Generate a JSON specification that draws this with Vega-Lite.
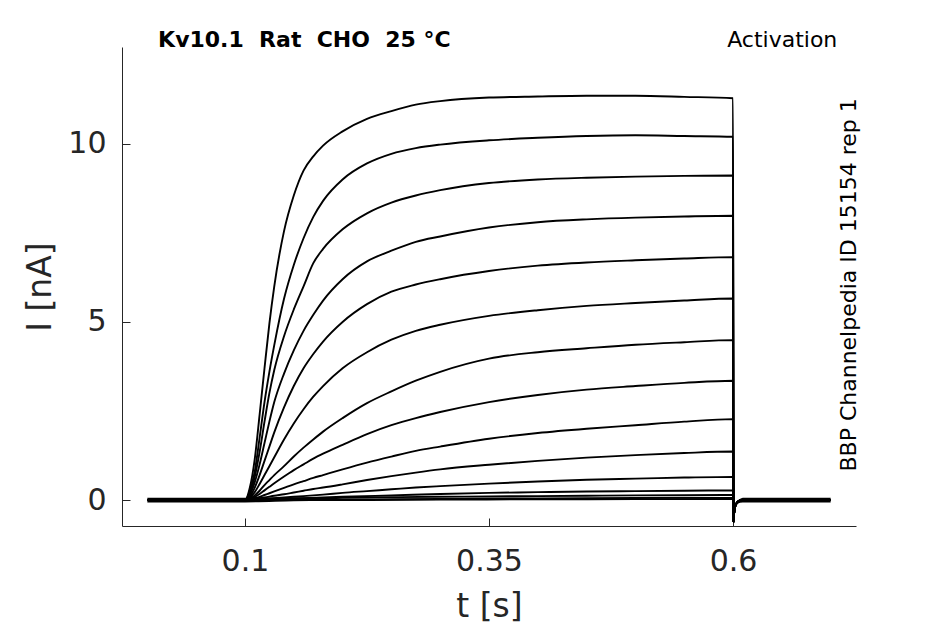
{
  "$schema": "https://vega.github.io/schema/vega-lite/v6.json",
  "autosize": "none",
  "padding": {"left": 122, "top": 47, "right": 89, "bottom": 98},
  "width": 734,
  "height": 479,
  "background": "white",
  "config": {
    "view": {"stroke": null},
    "font": "DejaVu Sans",
    "axis": {
      "grid": false,
      "domainColor": "#262626",
      "tickColor": "#262626",
      "labelColor": "#262626",
      "titleColor": "#262626",
      "labelFont": "DejaVu Sans",
      "titleFont": "DejaVu Sans",
      "labelFontSize": 30,
      "titleFontSize": 33,
      "titleFontWeight": "normal",
      "tickSize": -8,
      "domainWidth": 1,
      "tickWidth": 1
    }
  },
  "data": {
    "values": [
      {"k": 1, "t": 0, "i": 0}, {"k": 1, "t": 0.1, "i": 0}, {"k": 1, "t": 0.105, "i": 0.35}, {"k": 1, "t": 0.11, "i": 1.15}, {"k": 1, "t": 0.115, "i": 2.4}, {"k": 1, "t": 0.12, "i": 3.7}, {"k": 1, "t": 0.125, "i": 4.95}, {"k": 1, "t": 0.13, "i": 6.0}, {"k": 1, "t": 0.14, "i": 7.55}, {"k": 1, "t": 0.15, "i": 8.55}, {"k": 1, "t": 0.16, "i": 9.25}, {"k": 1, "t": 0.17, "i": 9.65}, {"k": 1, "t": 0.18, "i": 9.95}, {"k": 1, "t": 0.2, "i": 10.35}, {"k": 1, "t": 0.225, "i": 10.7}, {"k": 1, "t": 0.25, "i": 10.92}, {"k": 1, "t": 0.275, "i": 11.1}, {"k": 1, "t": 0.3, "i": 11.2}, {"k": 1, "t": 0.35, "i": 11.3}, {"k": 1, "t": 0.4, "i": 11.33}, {"k": 1, "t": 0.45, "i": 11.35}, {"k": 1, "t": 0.5, "i": 11.35}, {"k": 1, "t": 0.55, "i": 11.32}, {"k": 1, "t": 0.6, "i": 11.28},
      {"k": 1, "t": 0.6005, "i": -0.62}, {"k": 1, "t": 0.601, "i": -0.4}, {"k": 1, "t": 0.602, "i": -0.2}, {"k": 1, "t": 0.604, "i": -0.08}, {"k": 1, "t": 0.607, "i": -0.02}, {"k": 1, "t": 0.61, "i": 0}, {"k": 1, "t": 0.7, "i": 0},

      {"k": 2, "t": 0, "i": 0}, {"k": 2, "t": 0.1, "i": 0}, {"k": 2, "t": 0.105, "i": 0.25}, {"k": 2, "t": 0.11, "i": 0.8}, {"k": 2, "t": 0.115, "i": 1.75}, {"k": 2, "t": 0.12, "i": 2.75}, {"k": 2, "t": 0.125, "i": 3.6}, {"k": 2, "t": 0.13, "i": 4.35}, {"k": 2, "t": 0.14, "i": 5.65}, {"k": 2, "t": 0.15, "i": 6.6}, {"k": 2, "t": 0.16, "i": 7.35}, {"k": 2, "t": 0.17, "i": 7.95}, {"k": 2, "t": 0.18, "i": 8.4}, {"k": 2, "t": 0.2, "i": 9.0}, {"k": 2, "t": 0.225, "i": 9.45}, {"k": 2, "t": 0.25, "i": 9.72}, {"k": 2, "t": 0.275, "i": 9.88}, {"k": 2, "t": 0.3, "i": 9.98}, {"k": 2, "t": 0.35, "i": 10.1}, {"k": 2, "t": 0.4, "i": 10.17}, {"k": 2, "t": 0.45, "i": 10.22}, {"k": 2, "t": 0.5, "i": 10.24}, {"k": 2, "t": 0.55, "i": 10.22}, {"k": 2, "t": 0.6, "i": 10.2},
      {"k": 2, "t": 0.6005, "i": -0.62}, {"k": 2, "t": 0.601, "i": -0.4}, {"k": 2, "t": 0.602, "i": -0.2}, {"k": 2, "t": 0.604, "i": -0.08}, {"k": 2, "t": 0.607, "i": -0.02}, {"k": 2, "t": 0.61, "i": 0}, {"k": 2, "t": 0.7, "i": 0},

      {"k": 3, "t": 0, "i": 0}, {"k": 3, "t": 0.1, "i": 0}, {"k": 3, "t": 0.105, "i": 0.2}, {"k": 3, "t": 0.11, "i": 0.65}, {"k": 3, "t": 0.115, "i": 1.35}, {"k": 3, "t": 0.12, "i": 2.2}, {"k": 3, "t": 0.125, "i": 3.0}, {"k": 3, "t": 0.13, "i": 3.65}, {"k": 3, "t": 0.14, "i": 4.6}, {"k": 3, "t": 0.15, "i": 5.35}, {"k": 3, "t": 0.16, "i": 6.0}, {"k": 3, "t": 0.17, "i": 6.65}, {"k": 3, "t": 0.18, "i": 7.05}, {"k": 3, "t": 0.2, "i": 7.6}, {"k": 3, "t": 0.225, "i": 8.05}, {"k": 3, "t": 0.25, "i": 8.35}, {"k": 3, "t": 0.275, "i": 8.55}, {"k": 3, "t": 0.3, "i": 8.7}, {"k": 3, "t": 0.35, "i": 8.9}, {"k": 3, "t": 0.4, "i": 9.0}, {"k": 3, "t": 0.45, "i": 9.05}, {"k": 3, "t": 0.5, "i": 9.08}, {"k": 3, "t": 0.55, "i": 9.1}, {"k": 3, "t": 0.6, "i": 9.11},
      {"k": 3, "t": 0.6005, "i": -0.62}, {"k": 3, "t": 0.601, "i": -0.4}, {"k": 3, "t": 0.602, "i": -0.2}, {"k": 3, "t": 0.604, "i": -0.08}, {"k": 3, "t": 0.607, "i": -0.02}, {"k": 3, "t": 0.61, "i": 0}, {"k": 3, "t": 0.7, "i": 0},

      {"k": 4, "t": 0, "i": 0}, {"k": 4, "t": 0.1, "i": 0}, {"k": 4, "t": 0.105, "i": 0.15}, {"k": 4, "t": 0.11, "i": 0.5}, {"k": 4, "t": 0.115, "i": 1.0}, {"k": 4, "t": 0.12, "i": 1.6}, {"k": 4, "t": 0.125, "i": 2.2}, {"k": 4, "t": 0.13, "i": 2.75}, {"k": 4, "t": 0.14, "i": 3.55}, {"k": 4, "t": 0.15, "i": 4.2}, {"k": 4, "t": 0.16, "i": 4.75}, {"k": 4, "t": 0.17, "i": 5.2}, {"k": 4, "t": 0.18, "i": 5.6}, {"k": 4, "t": 0.2, "i": 6.2}, {"k": 4, "t": 0.225, "i": 6.7}, {"k": 4, "t": 0.25, "i": 7.0}, {"k": 4, "t": 0.275, "i": 7.25}, {"k": 4, "t": 0.3, "i": 7.4}, {"k": 4, "t": 0.35, "i": 7.65}, {"k": 4, "t": 0.4, "i": 7.8}, {"k": 4, "t": 0.45, "i": 7.88}, {"k": 4, "t": 0.5, "i": 7.93}, {"k": 4, "t": 0.55, "i": 7.96}, {"k": 4, "t": 0.6, "i": 7.98},
      {"k": 4, "t": 0.6005, "i": -0.62}, {"k": 4, "t": 0.601, "i": -0.4}, {"k": 4, "t": 0.602, "i": -0.2}, {"k": 4, "t": 0.604, "i": -0.08}, {"k": 4, "t": 0.607, "i": -0.02}, {"k": 4, "t": 0.61, "i": 0}, {"k": 4, "t": 0.7, "i": 0},

      {"k": 5, "t": 0, "i": 0}, {"k": 5, "t": 0.1, "i": 0}, {"k": 5, "t": 0.105, "i": 0.1}, {"k": 5, "t": 0.11, "i": 0.35}, {"k": 5, "t": 0.115, "i": 0.7}, {"k": 5, "t": 0.12, "i": 1.1}, {"k": 5, "t": 0.125, "i": 1.5}, {"k": 5, "t": 0.13, "i": 1.9}, {"k": 5, "t": 0.14, "i": 2.6}, {"k": 5, "t": 0.15, "i": 3.2}, {"k": 5, "t": 0.16, "i": 3.7}, {"k": 5, "t": 0.17, "i": 4.1}, {"k": 5, "t": 0.18, "i": 4.45}, {"k": 5, "t": 0.2, "i": 5.0}, {"k": 5, "t": 0.225, "i": 5.5}, {"k": 5, "t": 0.25, "i": 5.85}, {"k": 5, "t": 0.275, "i": 6.05}, {"k": 5, "t": 0.3, "i": 6.2}, {"k": 5, "t": 0.35, "i": 6.43}, {"k": 5, "t": 0.4, "i": 6.58}, {"k": 5, "t": 0.45, "i": 6.67}, {"k": 5, "t": 0.5, "i": 6.73}, {"k": 5, "t": 0.55, "i": 6.78}, {"k": 5, "t": 0.6, "i": 6.82},
      {"k": 5, "t": 0.6005, "i": -0.62}, {"k": 5, "t": 0.601, "i": -0.4}, {"k": 5, "t": 0.602, "i": -0.2}, {"k": 5, "t": 0.604, "i": -0.08}, {"k": 5, "t": 0.607, "i": -0.02}, {"k": 5, "t": 0.61, "i": 0}, {"k": 5, "t": 0.7, "i": 0},

      {"k": 6, "t": 0, "i": 0}, {"k": 6, "t": 0.1, "i": 0}, {"k": 6, "t": 0.105, "i": 0.07}, {"k": 6, "t": 0.11, "i": 0.22}, {"k": 6, "t": 0.115, "i": 0.45}, {"k": 6, "t": 0.12, "i": 0.7}, {"k": 6, "t": 0.125, "i": 0.95}, {"k": 6, "t": 0.13, "i": 1.2}, {"k": 6, "t": 0.14, "i": 1.7}, {"k": 6, "t": 0.15, "i": 2.15}, {"k": 6, "t": 0.16, "i": 2.55}, {"k": 6, "t": 0.17, "i": 2.9}, {"k": 6, "t": 0.18, "i": 3.2}, {"k": 6, "t": 0.2, "i": 3.7}, {"k": 6, "t": 0.225, "i": 4.15}, {"k": 6, "t": 0.25, "i": 4.5}, {"k": 6, "t": 0.275, "i": 4.75}, {"k": 6, "t": 0.3, "i": 4.92}, {"k": 6, "t": 0.35, "i": 5.17}, {"k": 6, "t": 0.4, "i": 5.33}, {"k": 6, "t": 0.45, "i": 5.45}, {"k": 6, "t": 0.5, "i": 5.53}, {"k": 6, "t": 0.55, "i": 5.6}, {"k": 6, "t": 0.6, "i": 5.66},
      {"k": 6, "t": 0.6005, "i": -0.62}, {"k": 6, "t": 0.601, "i": -0.4}, {"k": 6, "t": 0.602, "i": -0.2}, {"k": 6, "t": 0.604, "i": -0.08}, {"k": 6, "t": 0.607, "i": -0.02}, {"k": 6, "t": 0.61, "i": 0}, {"k": 6, "t": 0.7, "i": 0},

      {"k": 7, "t": 0, "i": 0}, {"k": 7, "t": 0.1, "i": 0}, {"k": 7, "t": 0.105, "i": 0.04}, {"k": 7, "t": 0.11, "i": 0.13}, {"k": 7, "t": 0.115, "i": 0.26}, {"k": 7, "t": 0.12, "i": 0.42}, {"k": 7, "t": 0.125, "i": 0.56}, {"k": 7, "t": 0.13, "i": 0.7}, {"k": 7, "t": 0.14, "i": 0.95}, {"k": 7, "t": 0.15, "i": 1.22}, {"k": 7, "t": 0.16, "i": 1.47}, {"k": 7, "t": 0.17, "i": 1.7}, {"k": 7, "t": 0.18, "i": 1.92}, {"k": 7, "t": 0.2, "i": 2.3}, {"k": 7, "t": 0.225, "i": 2.72}, {"k": 7, "t": 0.25, "i": 3.05}, {"k": 7, "t": 0.275, "i": 3.35}, {"k": 7, "t": 0.3, "i": 3.6}, {"k": 7, "t": 0.35, "i": 3.97}, {"k": 7, "t": 0.4, "i": 4.15}, {"k": 7, "t": 0.45, "i": 4.26}, {"k": 7, "t": 0.5, "i": 4.36}, {"k": 7, "t": 0.55, "i": 4.43}, {"k": 7, "t": 0.6, "i": 4.49},
      {"k": 7, "t": 0.6005, "i": -0.62}, {"k": 7, "t": 0.601, "i": -0.4}, {"k": 7, "t": 0.602, "i": -0.2}, {"k": 7, "t": 0.604, "i": -0.08}, {"k": 7, "t": 0.607, "i": -0.02}, {"k": 7, "t": 0.61, "i": 0}, {"k": 7, "t": 0.7, "i": 0},

      {"k": 8, "t": 0, "i": 0}, {"k": 8, "t": 0.1, "i": 0}, {"k": 8, "t": 0.105, "i": 0.03}, {"k": 8, "t": 0.11, "i": 0.09}, {"k": 8, "t": 0.115, "i": 0.17}, {"k": 8, "t": 0.12, "i": 0.27}, {"k": 8, "t": 0.125, "i": 0.37}, {"k": 8, "t": 0.13, "i": 0.47}, {"k": 8, "t": 0.14, "i": 0.66}, {"k": 8, "t": 0.15, "i": 0.84}, {"k": 8, "t": 0.16, "i": 1.0}, {"k": 8, "t": 0.17, "i": 1.16}, {"k": 8, "t": 0.18, "i": 1.3}, {"k": 8, "t": 0.2, "i": 1.55}, {"k": 8, "t": 0.225, "i": 1.85}, {"k": 8, "t": 0.25, "i": 2.1}, {"k": 8, "t": 0.275, "i": 2.3}, {"k": 8, "t": 0.3, "i": 2.47}, {"k": 8, "t": 0.35, "i": 2.75}, {"k": 8, "t": 0.4, "i": 2.95}, {"k": 8, "t": 0.45, "i": 3.1}, {"k": 8, "t": 0.5, "i": 3.2}, {"k": 8, "t": 0.55, "i": 3.29}, {"k": 8, "t": 0.6, "i": 3.35},
      {"k": 8, "t": 0.6005, "i": -0.62}, {"k": 8, "t": 0.601, "i": -0.4}, {"k": 8, "t": 0.602, "i": -0.2}, {"k": 8, "t": 0.604, "i": -0.08}, {"k": 8, "t": 0.607, "i": -0.02}, {"k": 8, "t": 0.61, "i": 0}, {"k": 8, "t": 0.7, "i": 0},

      {"k": 9, "t": 0, "i": 0}, {"k": 9, "t": 0.1, "i": 0}, {"k": 9, "t": 0.105, "i": 0.02}, {"k": 9, "t": 0.11, "i": 0.05}, {"k": 9, "t": 0.115, "i": 0.09}, {"k": 9, "t": 0.12, "i": 0.14}, {"k": 9, "t": 0.125, "i": 0.19}, {"k": 9, "t": 0.13, "i": 0.24}, {"k": 9, "t": 0.14, "i": 0.34}, {"k": 9, "t": 0.15, "i": 0.44}, {"k": 9, "t": 0.16, "i": 0.53}, {"k": 9, "t": 0.17, "i": 0.62}, {"k": 9, "t": 0.18, "i": 0.7}, {"k": 9, "t": 0.2, "i": 0.86}, {"k": 9, "t": 0.225, "i": 1.05}, {"k": 9, "t": 0.25, "i": 1.22}, {"k": 9, "t": 0.275, "i": 1.38}, {"k": 9, "t": 0.3, "i": 1.5}, {"k": 9, "t": 0.35, "i": 1.72}, {"k": 9, "t": 0.4, "i": 1.88}, {"k": 9, "t": 0.45, "i": 2.0}, {"k": 9, "t": 0.5, "i": 2.1}, {"k": 9, "t": 0.55, "i": 2.2}, {"k": 9, "t": 0.6, "i": 2.27},
      {"k": 9, "t": 0.6005, "i": -0.62}, {"k": 9, "t": 0.601, "i": -0.4}, {"k": 9, "t": 0.602, "i": -0.2}, {"k": 9, "t": 0.604, "i": -0.08}, {"k": 9, "t": 0.607, "i": -0.02}, {"k": 9, "t": 0.61, "i": 0}, {"k": 9, "t": 0.7, "i": 0},

      {"k": 10, "t": 0, "i": 0}, {"k": 10, "t": 0.1, "i": 0}, {"k": 10, "t": 0.11, "i": 0.03}, {"k": 10, "t": 0.12, "i": 0.07}, {"k": 10, "t": 0.13, "i": 0.12}, {"k": 10, "t": 0.14, "i": 0.16}, {"k": 10, "t": 0.15, "i": 0.21}, {"k": 10, "t": 0.16, "i": 0.26}, {"k": 10, "t": 0.17, "i": 0.31}, {"k": 10, "t": 0.18, "i": 0.35}, {"k": 10, "t": 0.2, "i": 0.44}, {"k": 10, "t": 0.225, "i": 0.56}, {"k": 10, "t": 0.25, "i": 0.67}, {"k": 10, "t": 0.275, "i": 0.77}, {"k": 10, "t": 0.3, "i": 0.86}, {"k": 10, "t": 0.35, "i": 0.99}, {"k": 10, "t": 0.4, "i": 1.1}, {"k": 10, "t": 0.45, "i": 1.19}, {"k": 10, "t": 0.5, "i": 1.26}, {"k": 10, "t": 0.55, "i": 1.32}, {"k": 10, "t": 0.6, "i": 1.36},
      {"k": 10, "t": 0.6005, "i": -0.62}, {"k": 10, "t": 0.601, "i": -0.4}, {"k": 10, "t": 0.602, "i": -0.2}, {"k": 10, "t": 0.604, "i": -0.08}, {"k": 10, "t": 0.607, "i": -0.02}, {"k": 10, "t": 0.61, "i": 0}, {"k": 10, "t": 0.7, "i": 0},

      {"k": 11, "t": 0, "i": 0}, {"k": 11, "t": 0.1, "i": 0}, {"k": 11, "t": 0.12, "i": 0.03}, {"k": 11, "t": 0.14, "i": 0.07}, {"k": 11, "t": 0.16, "i": 0.11}, {"k": 11, "t": 0.18, "i": 0.15}, {"k": 11, "t": 0.2, "i": 0.2}, {"k": 11, "t": 0.225, "i": 0.25}, {"k": 11, "t": 0.25, "i": 0.3}, {"k": 11, "t": 0.275, "i": 0.35}, {"k": 11, "t": 0.3, "i": 0.39}, {"k": 11, "t": 0.35, "i": 0.46}, {"k": 11, "t": 0.4, "i": 0.52}, {"k": 11, "t": 0.45, "i": 0.57}, {"k": 11, "t": 0.5, "i": 0.6}, {"k": 11, "t": 0.55, "i": 0.63}, {"k": 11, "t": 0.6, "i": 0.65},
      {"k": 11, "t": 0.6005, "i": -0.62}, {"k": 11, "t": 0.601, "i": -0.4}, {"k": 11, "t": 0.602, "i": -0.2}, {"k": 11, "t": 0.604, "i": -0.08}, {"k": 11, "t": 0.607, "i": -0.02}, {"k": 11, "t": 0.61, "i": 0}, {"k": 11, "t": 0.7, "i": 0},

      {"k": 12, "t": 0, "i": 0}, {"k": 12, "t": 0.1, "i": 0}, {"k": 12, "t": 0.15, "i": 0.04}, {"k": 12, "t": 0.2, "i": 0.09}, {"k": 12, "t": 0.25, "i": 0.13}, {"k": 12, "t": 0.3, "i": 0.17}, {"k": 12, "t": 0.35, "i": 0.2}, {"k": 12, "t": 0.4, "i": 0.22}, {"k": 12, "t": 0.45, "i": 0.24}, {"k": 12, "t": 0.5, "i": 0.25}, {"k": 12, "t": 0.55, "i": 0.26}, {"k": 12, "t": 0.6, "i": 0.27},
      {"k": 12, "t": 0.6005, "i": -0.62}, {"k": 12, "t": 0.601, "i": -0.4}, {"k": 12, "t": 0.602, "i": -0.2}, {"k": 12, "t": 0.604, "i": -0.08}, {"k": 12, "t": 0.607, "i": -0.02}, {"k": 12, "t": 0.61, "i": 0}, {"k": 12, "t": 0.7, "i": 0},

      {"k": 13, "t": 0, "i": 0.04}, {"k": 13, "t": 0.1, "i": 0.04}, {"k": 13, "t": 0.15, "i": 0.05}, {"k": 13, "t": 0.2, "i": 0.06}, {"k": 13, "t": 0.25, "i": 0.08}, {"k": 13, "t": 0.3, "i": 0.09}, {"k": 13, "t": 0.35, "i": 0.1}, {"k": 13, "t": 0.4, "i": 0.11}, {"k": 13, "t": 0.45, "i": 0.12}, {"k": 13, "t": 0.5, "i": 0.13}, {"k": 13, "t": 0.55, "i": 0.135}, {"k": 13, "t": 0.6, "i": 0.14},
      {"k": 13, "t": 0.6005, "i": -0.62}, {"k": 13, "t": 0.601, "i": -0.4}, {"k": 13, "t": 0.602, "i": -0.2}, {"k": 13, "t": 0.604, "i": -0.08}, {"k": 13, "t": 0.607, "i": 0.0}, {"k": 13, "t": 0.61, "i": 0.04}, {"k": 13, "t": 0.7, "i": 0.04},

      {"k": 14, "t": 0, "i": -0.04}, {"k": 14, "t": 0.1, "i": -0.04}, {"k": 14, "t": 0.15, "i": -0.01}, {"k": 14, "t": 0.2, "i": 0.01}, {"k": 14, "t": 0.25, "i": 0.02}, {"k": 14, "t": 0.3, "i": 0.03}, {"k": 14, "t": 0.35, "i": 0.04}, {"k": 14, "t": 0.4, "i": 0.045}, {"k": 14, "t": 0.45, "i": 0.05}, {"k": 14, "t": 0.5, "i": 0.055}, {"k": 14, "t": 0.55, "i": 0.06}, {"k": 14, "t": 0.6, "i": 0.06},
      {"k": 14, "t": 0.6005, "i": -0.62}, {"k": 14, "t": 0.601, "i": -0.4}, {"k": 14, "t": 0.602, "i": -0.2}, {"k": 14, "t": 0.604, "i": -0.1}, {"k": 14, "t": 0.607, "i": -0.05}, {"k": 14, "t": 0.61, "i": -0.04}, {"k": 14, "t": 0.7, "i": -0.04},

      {"k": 15, "t": 0, "i": 0}, {"k": 15, "t": 0.1, "i": 0}, {"k": 15, "t": 0.2, "i": 0.0}, {"k": 15, "t": 0.3, "i": 0.01}, {"k": 15, "t": 0.4, "i": 0.02}, {"k": 15, "t": 0.5, "i": 0.025}, {"k": 15, "t": 0.6, "i": 0.03},
      {"k": 15, "t": 0.6005, "i": -0.62}, {"k": 15, "t": 0.601, "i": -0.4}, {"k": 15, "t": 0.602, "i": -0.2}, {"k": 15, "t": 0.604, "i": -0.08}, {"k": 15, "t": 0.607, "i": -0.02}, {"k": 15, "t": 0.61, "i": 0}, {"k": 15, "t": 0.7, "i": 0}
    ]
  },
  "layer": [
    {
      "mark": {"type": "line", "color": "black", "strokeWidth": 1.9, "interpolate": "monotone"},
      "encoding": {
        "x": {
          "field": "t",
          "type": "quantitative",
          "scale": {"domain": [-0.026, 0.726], "nice": false, "zero": false},
          "axis": {"values": [0.1, 0.35, 0.6], "format": "~g", "title": "t [s]", "labelPadding": 28, "titlePadding": 14}
        },
        "y": {
          "field": "i",
          "type": "quantitative",
          "scale": {"domain": [-0.73, 12.72], "nice": false, "zero": false},
          "axis": {"values": [0, 5, 10], "title": "I [nA]", "labelPadding": 24, "titlePadding": 10}
        },
        "detail": {"field": "k", "type": "nominal"}
      }
    },
    {
      "data": {"values": [{"label": "Kv10.1 \u00a0Rat \u00a0CHO \u00a025 °C"}]},
      "mark": {"type": "text", "align": "left", "baseline": "alphabetic", "fontSize": 22, "fontWeight": "bold", "font": "DejaVu Sans", "color": "black"},
      "encoding": {
        "x": {"datum": 0.011, "type": "quantitative"},
        "y": {"datum": 12.73, "type": "quantitative"},
        "text": {"field": "label"}
      }
    },
    {
      "data": {"values": [{"label": "Activation"}]},
      "mark": {"type": "text", "align": "left", "baseline": "alphabetic", "fontSize": 22, "font": "DejaVu Sans", "color": "black"},
      "encoding": {
        "x": {"datum": 0.594, "type": "quantitative"},
        "y": {"datum": 12.73, "type": "quantitative"},
        "text": {"field": "label"}
      }
    },
    {
      "data": {"values": [{"label": "BBP Channelpedia ID 15154 rep 1"}]},
      "mark": {"type": "text", "align": "center", "baseline": "middle", "angle": 270, "fontSize": 22, "font": "DejaVu Sans", "color": "black"},
      "encoding": {
        "x": {"datum": 0.719, "type": "quantitative"},
        "y": {"datum": 6.04, "type": "quantitative"},
        "text": {"field": "label"}
      }
    }
  ]
}
